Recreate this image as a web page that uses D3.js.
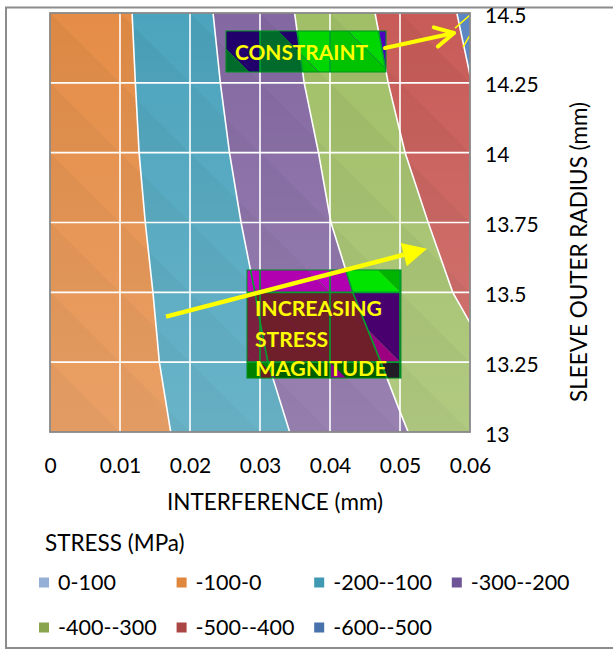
<!DOCTYPE html>
<html>
<head>
<meta charset="utf-8">
<script src="https://cdn.jsdelivr.net/npm/d3@7"></script>
<style>
body { margin: 0; background: #fff; }
svg text { font-family: Lato, "Open Sans", sans-serif; fill: #000; }
</style>
</head>
<body>
<svg id="chart" width="613" height="650"></svg>
<script>
// grid of the surface: interference (mm) across, sleeve outer radius (mm) up
var interference = [0, 0.01, 0.02, 0.03, 0.04, 0.05, 0.06];
var radius = [13, 13.25, 13.5, 13.75, 14, 14.25, 14.5];
// stress (MPa), one row per radius (13 first), one column per interference
var stress = [
  [0, -58, -116, -175, -234, -293, -353],
  [0, -64, -128, -193, -255, -317, -378],
  [0, -68, -136, -205, -277, -348, -417],
  [0, -74, -146, -220, -299, -371, -443],
  [0, -79, -156, -234, -313, -394, -476],
  [0, -82, -164, -247, -331, -414, -498],
  [0, -85, -172, -257, -344, -431, -516]
];
var bands = ["0-100", "-100-0", "-200--100", "-300--200", "-400--300", "-500--400", "-600--500"];
var bandLow = [0, -100, -200, -300, -400, -500, -600];
var bandKey = ["light", "orange", "teal", "purple", "green", "red", "blue"];
var plotColor = ["#95b3d7", "#e58d47", "#4ba4bd", "#8468a2", "#a1bf67", "#c85b57", "#5b86c3"];
var legendColor = ["#95b0d6", "#e0873e", "#3f99b2", "#6f5497", "#89a64f", "#aa4643", "#4772ac"];
var xTicks = interference;
var yTicks = radius;

var svg = d3.select("#chart");
var defs = svg.append("defs");

var x = d3.scaleLinear().domain([0, 0.06]).range([50, 470]);
var y = d3.scaleLinear().domain([13, 14.5]).range([432, 13]);

// contour coords: sample i sits at i + 0.5
var ix = d3.scaleLinear().domain([0.5, interference.length - 0.5])
  .range([x(interference[0]), x(interference[interference.length - 1])]);
var iy = d3.scaleLinear().domain([0.5, radius.length - 0.5])
  .range([y(radius[0]), y(radius[radius.length - 1])]);
var path = d3.geoPath(d3.geoTransform({
  point: function(a, b) { this.stream.point(ix(a), iy(b)); }
}));

var contours = d3.contours()
  .size([interference.length, radius.length])
  .thresholds(bandLow.slice().reverse())(stress.flat());

function bi(t) { return bandLow.indexOf(t); }

// outer chart border
svg.append("rect").attr("x", 6).attr("y", 7.5).attr("width", 640).attr("height", 640.5)
  .attr("fill", "#fff").attr("stroke", "#8c8c8c").attr("stroke-width", 2);

defs.append("clipPath").attr("id", "plotclip").append("rect")
  .attr("x", x(0)).attr("y", y(14.5)).attr("width", x(0.06) - x(0)).attr("height", y(13) - y(14.5));

var plot = svg.append("g").attr("clip-path", "url(#plotclip)");

plot.selectAll("path.band")
  .data(contours)
  .join("path")
  .attr("class", "band")
  .attr("d", path)
  .attr("fill", function(d) { return plotColor[bi(d.value)]; });

// light shading like excel's surface facets
var cells = [];
for (var j = 0; j < radius.length - 1; j++) {
  for (var i = 0; i < interference.length - 1; i++) {
    cells.push({i: i, j: j});
  }
}
function tri(c, which) {
  var x0 = x(interference[c.i]), x1 = x(interference[c.i + 1]);
  var yb = y(radius[c.j]), yt = y(radius[c.j + 1]);
  if (which == "ll") return [[x0, yt], [x0, yb], [x1, yb]];
  return [[x0, yt], [x1, yt], [x1, yb]];
}
plot.selectAll("path.shade")
  .data(cells)
  .join("path")
  .attr("class", "shade")
  .attr("d", function(c) { return "M" + tri(c, "ll").join("L") + "Z"; })
  .attr("fill", "#000").attr("opacity", 0.035);

var grad = defs.append("linearGradient").attr("id", "lift")
  .attr("x1", 0).attr("y1", 0).attr("x2", 0).attr("y2", 1);
grad.append("stop").attr("offset", "0%").attr("stop-color", "#fff").attr("stop-opacity", 0);
grad.append("stop").attr("offset", "100%").attr("stop-color", "#fff").attr("stop-opacity", 0.17);
plot.append("rect")
  .attr("x", x(0)).attr("y", y(14.5)).attr("width", x(0.06) - x(0)).attr("height", y(13) - y(14.5))
  .attr("fill", "url(#lift)");

function drawLines(g, color) {
  g.selectAll("line.vx")
    .data(xTicks.slice(1, -1))
    .join("line").attr("class", "vx")
    .attr("x1", function(d) { return x(d); }).attr("x2", function(d) { return x(d); })
    .attr("y1", y(14.5)).attr("y2", y(13))
    .attr("stroke", color).attr("stroke-width", 1.6);
  g.selectAll("line.hy")
    .data(yTicks.slice(1, -1))
    .join("line").attr("class", "hy")
    .attr("y1", function(d) { return y(d); }).attr("y2", function(d) { return y(d); })
    .attr("x1", x(0)).attr("x2", x(0.06))
    .attr("stroke", color).attr("stroke-width", 1.6);
  g.selectAll("path.edge")
    .data(contours.filter(function(d) { return d.value > -600 && d.value < 0; }))
    .join("path").attr("class", "edge")
    .attr("d", path)
    .attr("fill", "none")
    .attr("stroke", color).attr("stroke-width", 1.6);
}
drawLines(plot, "#fff");

// annotation boxes (odd colours of the original text boxes)
var boxes = [
  {x0: 0.02514, x1: 0.0480, y0: 14.4356, y1: 14.2888,
   text: ["CONSTRAINT"], tx: 0.02643, ty: [14.3316], tl: [133],
   rows: {5: {ur: {purple: "#21006b", green: "#00d600", red: "#4e00bf"},
              ll: {purple: "#006b2b", green: "#00c200", red: "#4e00bf"}}}},
  {x0: 0.02814, x1: 0.05014, y0: 13.580, y1: 13.193,
   text: ["INCREASING", "STRESS", "MAGNITUDE"], tx: 0.02929, ty: [13.4165, 13.3055, 13.2017], tl: [127, 73, 132],
   rows: {2: {ur: {teal: "#c000c0", purple: "#c000c0", green: "#00b400"},
              ll: {teal: "#c000c0", purple: "#b000b0", green: "#00e400"}},
          1: {ur: {teal: "#7c2040", purple: "#6e1f2a", green: "#47006e"},
              ll: {teal: "#7c2040", purple: "#6e1f2a", green: "#9c0080"}},
          0: {ur: {teal: "#008000", purple: "#005c00", green: "#211c25"},
              ll: {teal: "#6b1e20", purple: "#900090", green: "#211c25"}}}}
];

boxes.forEach(function(b, k) {
  var bx0 = x(b.x0), bx1 = x(b.x1), by0 = y(b.y0), by1 = y(b.y1);
  defs.append("clipPath").attr("id", "box" + k).append("rect")
    .attr("x", bx0).attr("y", by0).attr("width", bx1 - bx0).attr("height", by1 - by0);
  var gb = plot.append("g").attr("clip-path", "url(#box" + k + ")");
  cells.forEach(function(c) {
    var pal = b.rows[c.j];
    if (!pal) return;
    ["ur", "ll"].forEach(function(w) {
      var id = "b" + k + "c" + c.i + "_" + c.j + w;
      defs.append("clipPath").attr("id", id).append("path")
        .attr("d", "M" + tri(c, w).join("L") + "Z");
      gb.append("g").attr("clip-path", "url(#" + id + ")")
        .selectAll("path")
        .data(contours.filter(function(d) { return pal[w][bandKey[bi(d.value)]]; }))
        .join("path")
        .attr("d", path)
        .attr("fill", function(d) { return pal[w][bandKey[bi(d.value)]]; })
        .attr("stroke", function(d) { return pal[w][bandKey[bi(d.value)]]; })
        .attr("stroke-width", 0.6);
    });
  });
  drawLines(gb, "#00a030");
  plot.append("rect")
    .attr("x", bx0).attr("y", by0).attr("width", bx1 - bx0).attr("height", by1 - by0)
    .attr("fill", "none").attr("stroke", "#009020").attr("stroke-width", 1);
  b.text.forEach(function(t, n) {
    plot.append("text")
      .attr("x", x(b.tx)).attr("y", y(b.ty[n]))
      .attr("textLength", b.tl[n]).attr("lengthAdjust", "spacingAndGlyphs")
      .style("font-size", "21px").style("font-weight", "bold").style("fill", "#ffff00")
      .text(t);
  });
});

// thin yellow marks at the top right corner
var marks = [
  [[0.05786, 14.446], [0.0600, 14.493]],
  [[0.0590, 14.378], [0.0600, 14.421]]
];
plot.selectAll("line.mark")
  .data(marks)
  .join("line").attr("class", "mark")
  .attr("x1", function(d) { return x(d[0][0]); }).attr("y1", function(d) { return y(d[0][1]); })
  .attr("x2", function(d) { return x(d[1][0]); }).attr("y2", function(d) { return y(d[1][1]); })
  .attr("stroke", "#ffff00").attr("stroke-width", 1.5);

// arrows
function arrowGeom(a) {
  var sx = x(a.from[0]), sy = y(a.from[1]), ex = x(a.to[0]), ey = y(a.to[1]);
  var ang = Math.atan2(ey - sy, ex - sx);
  return {sx: sx, sy: sy, ex: ex, ey: ey, ang: ang};
}
var openArrow = arrowGeom({from: [0.04786, 14.3747], to: [0.05771, 14.4284]});
var ga = svg.append("g").attr("fill", "none").attr("stroke", "#ffff00")
  .attr("stroke-width", 4).attr("stroke-linecap", "round").attr("stroke-linejoin", "round");
ga.append("line").attr("x1", openArrow.sx).attr("y1", openArrow.sy)
  .attr("x2", openArrow.ex).attr("y2", openArrow.ey);
ga.append("path").attr("d", function() {
  var a = openArrow, L = 21, s = 28 * Math.PI / 180;
  return "M" + (a.ex - L * Math.cos(a.ang - s)) + "," + (a.ey - L * Math.sin(a.ang - s)) +
    "L" + a.ex + "," + a.ey +
    "L" + (a.ex - L * Math.cos(a.ang + s)) + "," + (a.ey - L * Math.sin(a.ang + s));
});

var fillArrow = arrowGeom({from: [0.016571, 13.4129], to: [0.053857, 13.6563]});
(function(a) {
  var L = 24, W = 12;
  var bx = a.ex - L * Math.cos(a.ang), by = a.ey - L * Math.sin(a.ang);
  svg.append("line").attr("x1", a.sx).attr("y1", a.sy).attr("x2", bx).attr("y2", by)
    .attr("stroke", "#ffff00").attr("stroke-width", 4.5);
  svg.append("path")
    .attr("d", "M" + a.ex + "," + a.ey +
      "L" + (bx + W * Math.sin(a.ang)) + "," + (by - W * Math.cos(a.ang)) +
      "L" + (bx - W * Math.sin(a.ang)) + "," + (by + W * Math.cos(a.ang)) + "Z")
    .attr("fill", "#ffff00");
})(fillArrow);

// plot border
svg.append("rect")
  .attr("x", x(0)).attr("y", y(14.5)).attr("width", x(0.06) - x(0)).attr("height", y(13) - y(14.5))
  .attr("fill", "none").attr("stroke", "#898989").attr("stroke-width", 1.8);

// axes
var xAxis = svg.append("g").attr("transform", "translate(0," + y(13) + ")")
  .call(d3.axisBottom(x).tickValues(xTicks).tickSize(0).tickPadding(26).tickFormat(function(d) { return String(d); }));
xAxis.select(".domain").remove();
xAxis.selectAll("text").style("font-size", "21px").attr("fill", "#000");

var yAxis = svg.append("g").attr("transform", "translate(" + x(0.06) + ",0)")
  .call(d3.axisRight(y).tickValues(yTicks).tickSize(0).tickPadding(15).tickFormat(function(d) { return String(d); }));
yAxis.select(".domain").remove();
yAxis.selectAll("text").style("font-size", "21px").attr("fill", "#000").attr("dy", "0.43em");

svg.append("text").attr("x", 275).attr("y", 510).attr("text-anchor", "middle")
  .style("font-size", "22.5px").text("INTERFERENCE (mm)");
svg.append("text").attr("transform", "translate(587,252) rotate(-90)").attr("text-anchor", "middle")
  .style("font-size", "22.5px").text("SLEEVE OUTER RADIUS (mm)");

// legend
svg.append("text").attr("x", 45).attr("y", 551).style("font-size", "22.5px").text("STRESS (MPa)");
var leg = svg.selectAll("g.leg")
  .data(bands)
  .join("g").attr("class", "leg")
  .attr("transform", function(d, k) {
    return "translate(" + (39 + 137.6 * (k % 4)) + "," + (k < 4 ? 590 : 635) + ")";
  });
leg.append("rect").attr("x", 0).attr("y", -12.5).attr("width", 10).attr("height", 10)
  .attr("fill", function(d, k) { return legendColor[k]; });
leg.append("text").attr("x", 19).attr("y", 0).style("font-size", "21.5px")
  .text(function(d) { return d; });
</script>
</body>
</html>
